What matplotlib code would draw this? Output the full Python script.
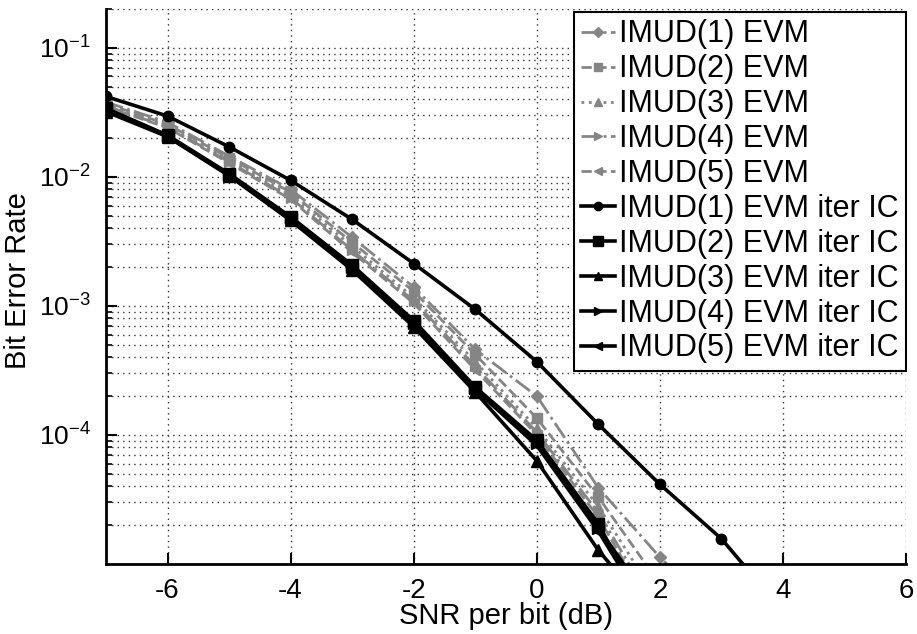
import numpy as np
import matplotlib
matplotlib.use('Agg')
import matplotlib.pyplot as plt
from matplotlib.ticker import LogLocator, FixedLocator, NullFormatter

plt.rcParams['font.family'] = ['Liberation Sans', 'DejaVu Sans']
plt.rcParams['mathtext.fontset'] = 'custom'
plt.rcParams['mathtext.rm'] = 'Liberation Sans'
plt.rcParams['mathtext.it'] = 'Liberation Sans:italic'
plt.rcParams['mathtext.bf'] = 'Liberation Sans:bold'
plt.rcParams['axes.unicode_minus'] = False

snr = [-7, -6, -5, -4, -3, -2, -1, 0, 1, 2, 3, 4]
nan = np.nan

# plain EVM detectors (grey)
evm1 = [0.038, 0.0265, 0.0145, 0.0080, 0.0034, 1.40e-3, 4.6e-4, 2.0e-4, 3.9e-5, 1.13e-5, 3.8e-6, nan]
evm2 = [0.037, 0.0255, 0.0140, 0.0076, 0.0031, 1.30e-3, 4.2e-4, 1.35e-4, 3.3e-5, 7e-6, nan, nan]
evm3 = [0.036, 0.0248, 0.0135, 0.0072, 0.0029, 1.16e-3, 3.7e-4, 1.13e-4, 2.8e-5, 5e-6, nan, nan]
evm4 = [0.0355, 0.0243, 0.0131, 0.0069, 0.0027, 1.10e-3, 3.4e-4, 1.05e-4, 2.5e-5, 4e-6, nan, nan]
evm5 = [0.035, 0.0240, 0.0128, 0.0067, 0.0026, 1.05e-3, 3.2e-4, 1.0e-4, 2.3e-5, 3.5e-6, nan, nan]

# EVM with iterative interference cancellation (black)
ic1 = [0.042, 0.0296, 0.0171, 0.0094, 0.00468, 0.00213, 9.4e-4, 3.7e-4, 1.21e-4, 4.15e-5, 1.57e-5, 4.3e-6]
ic2 = [0.034, 0.0210, 0.0106, 0.0049, 0.00207, 7.7e-4, 2.35e-4, 9.1e-5, 2.05e-5, 2.6e-6, nan, nan]
ic3 = [0.032, 0.0205, 0.0102, 0.0046, 0.0019, 6.9e-4, 2.15e-4, 6.3e-5, 1.28e-5, 3.5e-6, nan, nan]
ic4 = [0.0335, 0.0208, 0.0104, 0.0048, 0.0020, 7.4e-4, 2.3e-4, 8.6e-5, 1.9e-5, 4e-6, nan, nan]
ic5 = [0.033, 0.0206, 0.0103, 0.0047, 0.00195, 7.2e-4, 2.25e-4, 8.3e-5, 1.8e-5, 3e-6, nan, nan]

labels = ['IMUD(1) EVM', 'IMUD(2) EVM', 'IMUD(3) EVM', 'IMUD(4) EVM', 'IMUD(5) EVM',
          'IMUD(1) EVM iter IC', 'IMUD(2) EVM iter IC', 'IMUD(3) EVM iter IC',
          'IMUD(4) EVM iter IC', 'IMUD(5) EVM iter IC']

fig = plt.figure(figsize=(9.17, 6.34), dpi=100)
ax = fig.add_axes([0.1156, 0.1104, 0.8724, 0.8754])

grey = '#858585'
evm_styles = [('-.', 'D', 6), ('--', 's', 7), (':', '^', 7), ('-.', '>', 7), ('--', '<', 7)]
for y, (ls, mk, ms), lab in zip([evm1, evm2, evm3, evm4, evm5], evm_styles, labels[:5]):
    ax.semilogy(snr, y, linestyle=ls, marker=mk, color=grey, lw=2, ms=ms,
                mfc=grey, mec=grey, label=lab)

ic_styles = [('o', 7.5), ('s', 9), ('^', 8), ('>', 8), ('<', 8)]
for y, (mk, ms), lab in zip([ic1, ic2, ic3, ic4, ic5], ic_styles, labels[5:]):
    ax.semilogy(snr, y, '-', marker=mk, color='black', lw=2.6, ms=ms, label=lab)

ax.set_xlim(-7, 6)
ax.set_ylim(1e-5, 0.2)
ax.set_xticks([-6, -4, -2, 0, 2, 4, 6])
ax.yaxis.set_major_locator(FixedLocator([1e-4, 1e-3, 1e-2, 1e-1]))
ax.set_yticklabels(['$10^{-4}$', '$10^{-3}$', '$10^{-2}$', '$10^{-1}$'])
ax.yaxis.set_minor_locator(LogLocator(base=10, subs=np.arange(2, 10), numticks=20))
ax.yaxis.set_minor_formatter(NullFormatter())

ax.grid(True, which='major', linestyle=(0, (1, 3)), color='#333333', lw=1.0)
ax.grid(True, which='minor', axis='y', linestyle=(0, (1, 3)), color='#333333', lw=1.0)
ax.spines['top'].set_visible(False)
ax.spines['right'].set_visible(False)
ax.spines['left'].set_linewidth(2)
ax.spines['bottom'].set_linewidth(2)
ax.tick_params(which='major', direction='in', length=8, width=1.5, labelsize=20, pad=10)
ax.tick_params(axis='y', which='major', labelsize=19, pad=11)
ax.tick_params(which='minor', direction='in', length=4, width=1.2)

ax.set_xlabel('SNR per bit (dB)', fontsize=21)
ax.set_ylabel('Bit Error Rate', fontsize=21)
ax.xaxis.set_label_coords(0.5, -0.094)
ax.yaxis.set_label_coords(-0.11, 0.51)
ax.xaxis.label.set_va('center')
ax.yaxis.label.set_va('center')

leg = ax.legend(loc='upper right', bbox_to_anchor=(1.0, 0.995), fontsize=22,
                numpoints=1, handlelength=1.1, handletextpad=0.12, labelspacing=0.16,
                borderpad=0.25, borderaxespad=0, fancybox=False, framealpha=1,
                edgecolor='black', markerscale=0.8)
leg.get_frame().set_linewidth(1.5)

fig.savefig('out.png', dpi=100)
